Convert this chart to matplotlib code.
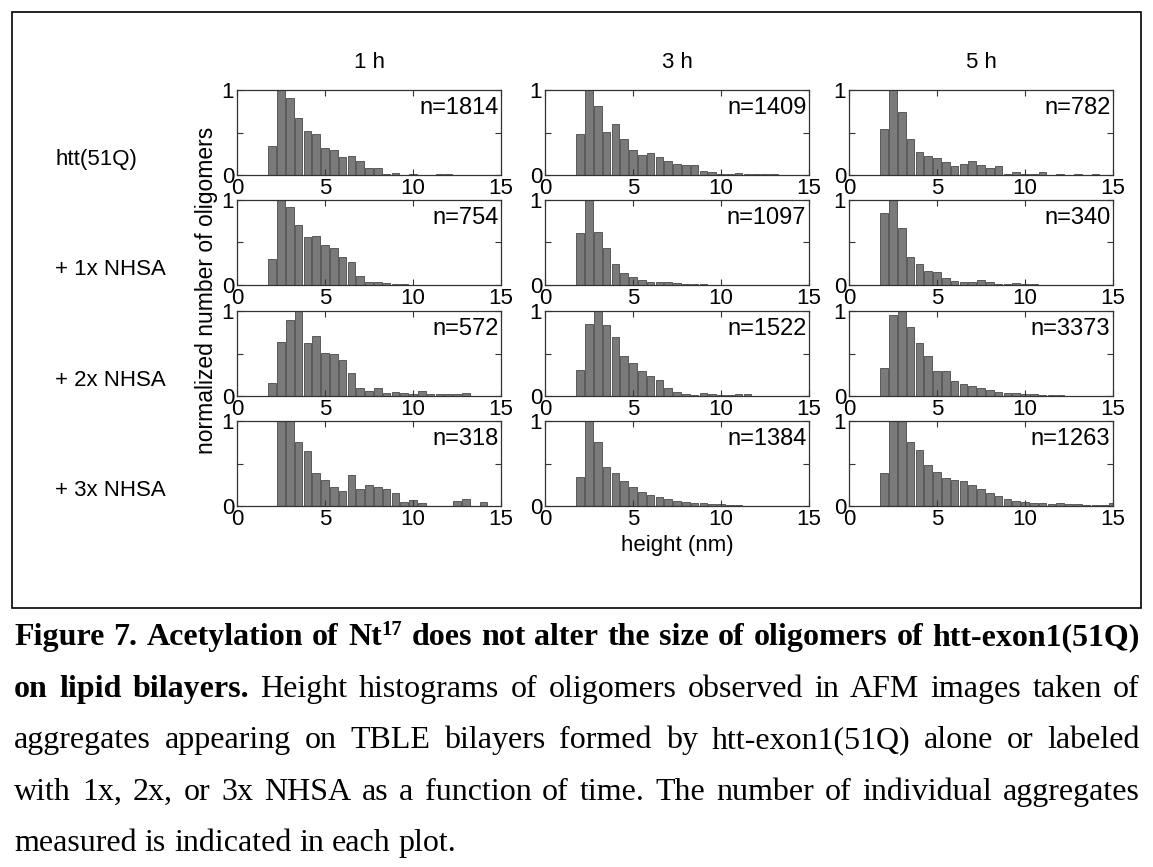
import matplotlib
matplotlib.use("Agg")
import matplotlib.pyplot as plt
from matplotlib.patches import Rectangle
import numpy as np

plt.rcParams["font.family"] = ["Liberation Sans", "DejaVu Sans"]

# bin centres (nm), 0.5 nm bins starting at 2.0
centers = np.arange(2.0, 15.01, 0.5)

col_titles = ["1 h", "3 h", "5 h"]
row_labels = ["htt(51Q)", "+ 1x NHSA", "+ 2x NHSA", "+ 3x NHSA"]
counts = [["n=1814", "n=1409", "n=782"],
          ["n=754", "n=1097", "n=340"],
          ["n=572", "n=1522", "n=3373"],
          ["n=318", "n=1384", "n=1263"]]

# normalized histogram heights, one list per panel (row, col)
h_51q_1h = [0.34, 1.0, 0.91, 0.67, 0.52, 0.48, 0.32, 0.30, 0.21, 0.22, 0.16, 0.08, 0.08, 0.015,
            0.02, 0.005, 0.01, 0.005, 0.005, 0.01, 0.01, 0.003, 0.003, 0.0, 0.003, 0.0, 0.0]
h_51q_3h = [0.48, 1.0, 0.81, 0.51, 0.60, 0.42, 0.29, 0.23, 0.26, 0.21, 0.17, 0.13, 0.12, 0.12,
            0.045, 0.03, 0.015, 0.015, 0.02, 0.01, 0.008, 0.008, 0.01, 0.003, 0.003, 0.0, 0.0]
h_51q_5h = [0.54, 1.0, 0.74, 0.42, 0.27, 0.22, 0.20, 0.15, 0.11, 0.13, 0.16, 0.12, 0.08, 0.11,
            0.012, 0.04, 0.012, 0.012, 0.036, 0.004, 0.012, 0.004, 0.008, 0.004, 0.008, 0.0, 0.0]
h_1x_1h = [0.31, 1.0, 0.92, 0.71, 0.57, 0.58, 0.47, 0.44, 0.33, 0.27, 0.11, 0.04, 0.03, 0.02,
           0.01, 0.01, 0.005, 0.003, 0.003, 0.0, 0.0, 0.0, 0.0, 0.0, 0.0, 0.0, 0.0]
h_1x_3h = [0.61, 1.0, 0.62, 0.43, 0.25, 0.14, 0.09, 0.055, 0.04, 0.035, 0.03, 0.02, 0.015, 0.01,
           0.01, 0.005, 0.005, 0.003, 0.003, 0.0, 0.0, 0.0, 0.0, 0.0, 0.0, 0.0, 0.0]
h_1x_5h = [0.85, 1.0, 0.67, 0.33, 0.25, 0.16, 0.15, 0.08, 0.05, 0.03, 0.03, 0.06, 0.03, 0.01,
           0.01, 0.02, 0.01, 0.01, 0.0, 0.0, 0.0, 0.0, 0.0, 0.0, 0.0, 0.0, 0.0]
h_2x_1h = [0.15, 0.63, 0.90, 1.0, 0.62, 0.71, 0.51, 0.50, 0.42, 0.27, 0.09, 0.06, 0.09, 0.04,
           0.05, 0.04, 0.02, 0.06, 0.02, 0.025, 0.025, 0.02, 0.04, 0.0, 0.0, 0.0, 0.0]
h_2x_3h = [0.31, 0.85, 1.0, 0.83, 0.70, 0.47, 0.39, 0.29, 0.24, 0.19, 0.10, 0.05, 0.025, 0.01,
           0.03, 0.025, 0.01, 0.01, 0.025, 0.025, 0.005, 0.003, 0.0, 0.0, 0.0, 0.0, 0.0]
h_2x_5h = [0.33, 0.95, 1.0, 0.81, 0.62, 0.47, 0.29, 0.29, 0.18, 0.14, 0.12, 0.09, 0.065, 0.05,
           0.04, 0.03, 0.028, 0.02, 0.012, 0.008, 0.008, 0.004, 0.003, 0.0, 0.0, 0.0, 0.0]
h_3x_1h = [0.0, 1.0, 1.0, 0.75, 0.65, 0.39, 0.31, 0.22, 0.18, 0.37, 0.20, 0.25, 0.22, 0.20,
           0.15, 0.05, 0.07, 0.03, 0.0, 0.0, 0.0, 0.06, 0.08, 0.0, 0.05, 0.0, 0.0]
h_3x_3h = [0.34, 1.0, 0.75, 0.46, 0.39, 0.29, 0.22, 0.17, 0.13, 0.11, 0.08, 0.06, 0.05, 0.04,
           0.03, 0.02, 0.02, 0.01, 0.01, 0.005, 0.005, 0.003, 0.0, 0.0, 0.0, 0.0, 0.0]
h_3x_5h = [0.39, 1.0, 1.0, 0.75, 0.66, 0.48, 0.40, 0.33, 0.31, 0.29, 0.25, 0.20, 0.15, 0.12,
           0.08, 0.06, 0.05, 0.04, 0.03, 0.02, 0.04, 0.02, 0.02, 0.01, 0.01, 0.01, 0.04]

heights = [[h_51q_1h, h_51q_3h, h_51q_5h],
           [h_1x_1h, h_1x_3h, h_1x_5h],
           [h_2x_1h, h_2x_3h, h_2x_5h],
           [h_3x_1h, h_3x_3h, h_3x_5h]]

W, H = 1153, 867
fig = plt.figure(figsize=(W / 100, H / 100), dpi=100)

def px(x, y, w=0, h=0):
    # pixel box (top-left origin) -> figure fraction
    return [x / W, 1 - (y + h) / H, w / W, h / H]

col_x = [237, 545, 849]
row_y = [90, 200, 311, 421]
aw, ah = 264, 85

for r in range(4):
    for c in range(3):
        ax = fig.add_axes(px(col_x[c], row_y[r], aw, ah))
        ax.bar(centers, heights[r][c], width=0.44, color="#7a7a7a",
               edgecolor="#4a4a4a", linewidth=0.6)
        ax.set_xlim(0, 15)
        ax.set_ylim(0, 1)
        ax.set_xticks([0, 5, 10, 15])
        ax.set_yticks([0, 0.5, 1])
        ax.set_yticklabels(["0", "", "1"])
        ax.tick_params(direction="in", top=True, right=True, length=4,
                       labelsize=16, pad=2, color="#333333")
        for s in ax.spines.values():
            s.set_linewidth(0.9)
            s.set_color("#333333")
        ax.text(0.99, 0.72, counts[r][c], transform=ax.transAxes,
                ha="right", va="baseline", fontsize=17)
        if c == 0:
            fig.text(55 / W, 1 - (row_y[r] + ah * 0.82) / H, row_labels[r],
                     ha="left", va="center", fontsize=16)

for c in range(3):
    fig.text((col_x[c] + aw / 2) / W, 1 - 62 / H, col_titles[c],
             ha="center", va="center", fontsize=16)

fig.text(207 / W, 1 - 290 / H, "normalized number of oligomers",
         rotation=90, ha="center", va="center", fontsize=16.5)
fig.text((col_x[1] + aw / 2) / W, 1 - 546 / H, "height (nm)",
         ha="center", va="center", fontsize=16)

# frame around the plot area
fig.patches.append(Rectangle((12 / W, 1 - 608 / H), 1129 / W, 596 / H,
                             transform=fig.transFigure, fill=False,
                             edgecolor="black", linewidth=1.2))

# caption, justified line by line
serif = ["Liberation Serif", "DejaVu Serif"]
fs = 23
B, R = "bold", "normal"
cap_lines = [
    [[("Figure", B)], [("7.", B)], [("Acetylation", B)], [("of", B)],
     [("Nt", B), ("17", "sup")], [("does", B)], [("not", B)], [("alter", B)],
     [("the", B)], [("size", B)], [("of", B)], [("oligomers", B)], [("of", B)],
     [("htt-exon1(51Q)", B)]],
    [[(w, B)] for w in "on lipid bilayers.".split()] +
    [[(w, R)] for w in "Height histograms of oligomers observed in AFM images taken of".split()],
    [[(w, R)] for w in "aggregates appearing on TBLE bilayers formed by htt-exon1(51Q) alone or labeled".split()],
    [[(w, R)] for w in "with 1x, 2x, or 3x NHSA as a function of time. The number of individual aggregates".split()],
    [[(w, R)] for w in "measured is indicated in each plot.".split()],
]

renderer = fig.canvas.get_renderer()

def piece_style(kind):
    if kind == "sup":
        return dict(fontweight="bold", fontsize=fs * 0.65), 10
    return dict(fontweight=kind, fontsize=fs), 0

def word_width(word):
    total = 0
    for txt, kind in word:
        st, _ = piece_style(kind)
        t = fig.text(0, 0, txt, family=serif, **st)
        total += t.get_window_extent(renderer).width
        t.remove()
    return total

x0, x1 = 14, 1140
line_y = [645, 697, 748, 800, 851]
space = word_width([("a a", R)]) - 2 * word_width([("a", R)])
for i, words in enumerate(cap_lines):
    widths = [word_width(w) for w in words]
    if i < len(cap_lines) - 1:
        gap = (x1 - x0 - sum(widths)) / (len(words) - 1)
    else:
        gap = space
    x = x0
    for w, wd in zip(words, widths):
        xx = x
        for txt, kind in w:
            st, dy = piece_style(kind)
            t = fig.text(xx / W, 1 - (line_y[i] - dy) / H, txt, family=serif,
                         ha="left", va="baseline", **st)
            xx += t.get_window_extent(renderer).width
        x += wd + gap

fig.savefig("out.png", dpi=100)
